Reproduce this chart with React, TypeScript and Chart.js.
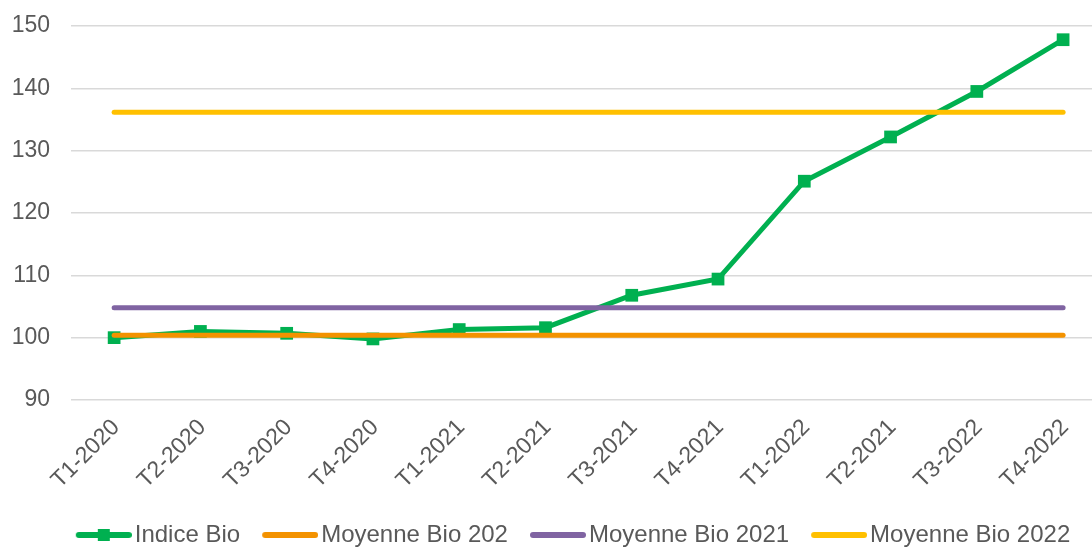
import { useEffect, useRef } from "react";
import { Chart, registerables } from "chart.js";

Chart.register(...registerables);

const categories = [
  "T1-2020", "T2-2020", "T3-2020", "T4-2020",
  "T1-2021", "T2-2021", "T3-2021", "T4-2021",
  "T1-2022", "T2-2021", "T3-2022", "T4-2022",
];
const indiceBio = [100, 101, 100.7, 99.8, 101.3, 101.6, 106.8, 109.4, 125.1, 132.2, 139.5, 147.8];
const moyenne2020 = [100.37, 100.37, 100.37, 100.37, 100.37, 100.37, 100.37, 100.37, 100.37, 100.37, 100.37, 100.37];
const moyenne2021 = [104.78, 104.78, 104.78, 104.78, 104.78, 104.78, 104.78, 104.78, 104.78, 104.78, 104.78, 104.78];
const moyenne2022 = [136.15, 136.15, 136.15, 136.15, 136.15, 136.15, 136.15, 136.15, 136.15, 136.15, 136.15, 136.15];
const seriesLabels = ["Indice Bio", "Moyenne Bio 202", "Moyenne Bio 2021", "Moyenne Bio 2022"];
const seriesColors = ["#00B050", "#F39200", "#8064A2", "#FFC000"];
const yMin = 90;
const yMax = 150;
const yStep = 10;

const FONT = "'Liberation Sans', Arial, sans-serif";
const TEXT = "#595959";

function makeLegendImage(color: string, marker: boolean) {
  const c = document.createElement("canvas");
  c.width = 77;
  c.height = 14;
  const ctx = c.getContext("2d")!;
  ctx.strokeStyle = color;
  ctx.lineWidth = 6;
  ctx.lineCap = "round";
  ctx.beginPath();
  ctx.moveTo(24, 7);
  ctx.lineTo(74, 7);
  ctx.stroke();
  if (marker) {
    ctx.fillStyle = color;
    ctx.fillRect(49 - 6, 7 - 6, 12, 12);
  }
  return c;
}

const legendShift = {
  id: "legendShift",
  afterLayout(chart: any) {
    if (chart.legend) {
      chart.legend.left += 33;
    }
  },
};

const zeroPad = (s: any) => {
  s.paddingLeft = 0;
  s.paddingRight = 0;
  s.paddingTop = 0;
  s.paddingBottom = 0;
};

export default function App() {
  const ref = useRef<HTMLCanvasElement | null>(null);

  useEffect(() => {
    if (!ref.current) return;
    const toPts = (arr: number[]) => arr.map((v, i) => ({ x: i, y: v }));
    const images = seriesColors.map((c, i) => makeLegendImage(c, i === 0));

    const chart = new Chart(ref.current, {
      type: "line",
      data: {
        datasets: [
          {
            label: seriesLabels[0],
            data: toPts(indiceBio),
            borderColor: seriesColors[0],
            backgroundColor: seriesColors[0],
            borderWidth: 5,
            pointStyle: "rect",
            pointRadius: 9,
            pointBorderWidth: 0,
            pointBackgroundColor: seriesColors[0],
            tension: 0,
            order: 4,
          },
          {
            label: seriesLabels[1],
            data: toPts(moyenne2020),
            borderColor: seriesColors[1],
            borderWidth: 5,
            pointRadius: 0,
            borderCapStyle: "round",
            order: 1,
          },
          {
            label: seriesLabels[2],
            data: toPts(moyenne2021),
            borderColor: seriesColors[2],
            borderWidth: 5,
            pointRadius: 0,
            borderCapStyle: "round",
            order: 2,
          },
          {
            label: seriesLabels[3],
            data: toPts(moyenne2022),
            borderColor: seriesColors[3],
            borderWidth: 5,
            pointRadius: 0,
            borderCapStyle: "round",
            order: 3,
          },
        ],
      },
      options: {
        animation: false,
        responsive: false,
        layout: { padding: { top: 26, left: 0, right: 0, bottom: 0 } },
        scales: {
          x: {
            type: "linear",
            min: -0.5,
            max: 11.335,
            afterBuildTicks: (s: any) => {
              s.ticks = categories.map((_, i) => ({ value: i }));
            },
            afterFit: (s: any) => {
              s.height = 113;
              zeroPad(s);
            },
            ticks: {
              autoSkip: false,
              minRotation: 45,
              maxRotation: 45,
              padding: 6,
              labelOffset: 2,
              color: TEXT,
              font: { family: FONT, size: 23 },
              callback: (v: any) => categories[Math.round(Number(v))],
            },
            grid: { display: false },
            border: { display: false },
          },
          y: {
            min: yMin,
            max: yMax,
            afterFit: (s: any) => {
              s.width = 71;
              zeroPad(s);
            },
            ticks: {
              stepSize: yStep,
              padding: 21,
              color: TEXT,
              font: { family: FONT, size: 23 },
            },
            grid: { color: "#D9D9D9", lineWidth: 1.5, drawTicks: false },
            border: { display: false },
          },
        },
        plugins: {
          tooltip: { enabled: false },
          legend: {
            position: "bottom",
            maxHeight: 34,
            labels: {
              usePointStyle: true,
              pointStyleWidth: 59,
              padding: 10,
              color: TEXT,
              font: { family: FONT, size: 24 },
              generateLabels: (ch: any) =>
                ch.data.datasets.map((ds: any, i: number) => ({
                  text: ds.label,
                  pointStyle: images[i],
                  fillStyle: "transparent",
                  strokeStyle: "transparent",
                  lineWidth: 0,
                  hidden: false,
                  datasetIndex: i,
                  fontColor: TEXT,
                })),
            },
          },
        },
      },
      plugins: [legendShift],
    } as any);
    return () => chart.destroy();
  }, []);

  return (
    <div
      style={{
        position: "fixed",
        left: 0,
        top: 0,
        width: 1092,
        height: 547,
        overflow: "hidden",
        background: "#fff",
      }}
    >
      <canvas ref={ref} width={1101} height={547} style={{ display: "block" }} />
    </div>
  );
}
